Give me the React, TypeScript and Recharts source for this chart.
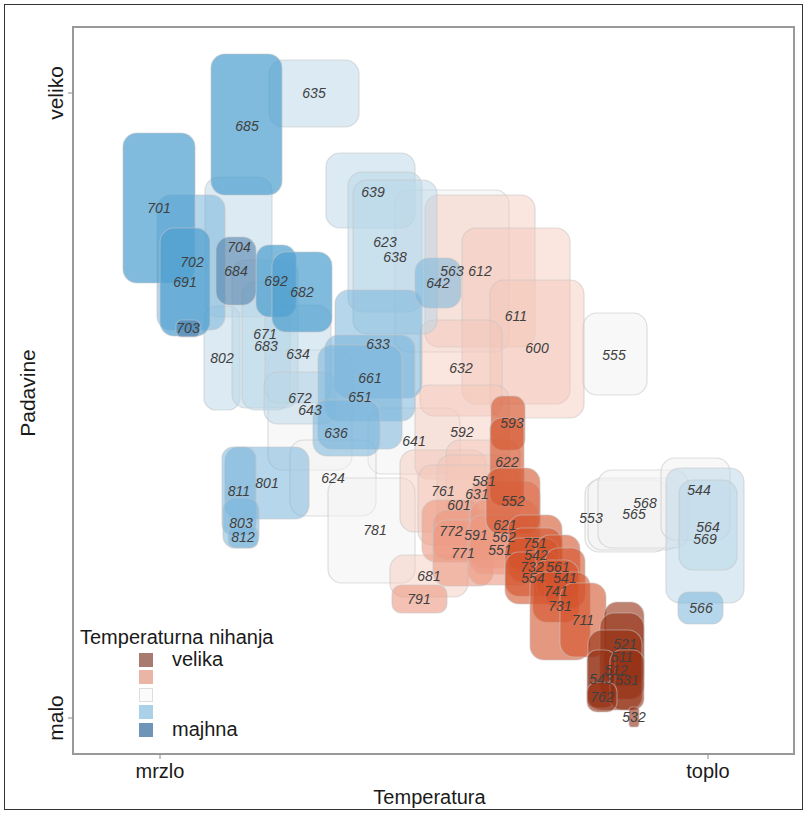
import React from "react";
import { ScatterChart, Scatter, XAxis, YAxis, ReferenceArea } from "recharts";

// each row: [id, x1, x2, y1, y2, labelX, labelY]  (temperature index, precipitation index)
type Row = [string, number, number, number, number, number, number];

const zoneWhite: Row[] = [
  ["643", 198, 282, 290, 410, 240, 350],
  ["563", 325, 439, 408, 570, 382, 489],
  ["555", 513, 577, 365, 447, 544, 405],
  ["641", 298, 390, 286, 352, 344, 319],
  ["624", 220, 306, 244, 320, 263, 282],
  ["781", 258, 345, 177, 282, 305, 230],
  ["553", 515, 598, 208, 280, 521, 242],
  ["565", 518, 610, 210, 282, 564, 246],
  ["568", 528, 618, 212, 290, 575, 257],
  ["569", 591, 660, 220, 302, 635, 221],
];

const zonePink: Row[] = [
  ["612", 355, 465, 413, 565, 410, 489],
  ["611", 392, 500, 356, 532, 446, 444],
  ["600", 420, 514, 342, 480, 467, 412],
  ["632", 350, 432, 344, 440, 391, 392],
  ["592", 345, 439, 281, 375, 392, 328],
  ["761", 330, 416, 228, 310, 373, 269],
  ["581", 376, 450, 238, 320, 414, 279],
  ["631", 367, 447, 227, 305, 407, 266],
  ["601", 348, 430, 215, 295, 389, 255],
  ["681", 320, 398, 163, 205, 359, 184],
];

const zonePaleBlue: Row[] = [
  ["635", 199, 289, 633, 700, 244, 667],
  ["704", 135, 202, 443, 583, 169, 513],
  ["802", 134, 170, 350, 454, 152, 402],
  ["671", 162, 228, 352, 500, 195, 426],
  ["683", 172, 220, 350, 478, 196, 414],
  ["634", 195, 261, 357, 455, 228, 406],
  ["672", 194, 266, 336, 388, 230, 362],
  ["639", 256, 345, 532, 607, 303, 568],
  ["623", 278, 352, 448, 588, 315, 518],
  ["638", 283, 367, 426, 580, 325, 503],
  ["544", 596, 674, 157, 292, 629, 270],
  ["564", 609, 667, 190, 280, 638, 233],
];

const zoneSalmon: Row[] = [
  ["772", 352, 410, 198, 260, 381, 229],
  ["591", 363, 449, 200, 250, 406, 225],
  ["771", 363, 423, 174, 240, 393, 207],
  ["621", 400, 470, 192, 278, 435, 235],
  ["562", 400, 468, 186, 260, 434, 223],
  ["551", 398, 462, 175, 245, 430, 210],
  ["791", 322, 377, 147, 175, 349, 161],
];

const zoneLightBlue: Row[] = [
  ["702", 87, 155, 430, 565, 122, 498],
  ["633", 265, 352, 362, 470, 308, 416],
  ["661", 255, 345, 339, 425, 300, 382],
  ["651", 248, 332, 311, 415, 290, 363],
  ["636", 243, 310, 304, 360, 266, 327],
  ["642", 345, 391, 452, 502, 368, 477],
  ["801", 155, 239, 241, 313, 197, 277],
  ["811", 152, 186, 225, 313, 169, 269],
  ["803", 153, 189, 212, 262, 171, 237],
  ["812", 158, 188, 212, 234, 173, 223],
  ["566", 608, 653, 136, 168, 631, 152],
];

const zoneRed: Row[] = [
  ["593", 421, 455, 310, 364, 442, 337],
  ["622", 420, 454, 254, 342, 437, 298],
  ["552", 416, 470, 226, 292, 443, 259],
  ["751", 438, 492, 189, 245, 465, 217],
  ["542", 438, 492, 178, 232, 466, 205],
  ["732", 435, 489, 164, 222, 462, 193],
  ["554", 435, 491, 156, 208, 463, 182],
  ["561", 466, 510, 161, 225, 488, 193],
  ["541", 475, 515, 152, 212, 495, 182],
  ["741", 463, 509, 138, 200, 486, 169],
  ["731", 460, 520, 100, 188, 490, 154],
  ["711", 490, 536, 103, 177, 513, 140],
];

const zoneBlue: Row[] = [
  ["685", 141, 212, 565, 706, 177, 634],
  ["701", 53, 125, 477, 627, 89, 552],
  ["691", 90, 140, 424, 532, 115, 478],
  ["692", 186, 226, 443, 515, 206, 479],
  ["682", 202, 262, 428, 508, 232, 468],
];

const zoneSteel: Row[] = [
  ["684", 146, 186, 455, 523, 166, 489],
  ["703", 106, 130, 423, 440, 118, 432],
];

const zoneDark: Row[] = [
  ["521", 534, 574, 74, 158, 555, 116],
  ["511", 530, 574, 61, 147, 552, 103],
  ["512", 518, 572, 50, 130, 546, 90],
  ["543", 517, 545, 52, 110, 531, 81],
  ["531", 540, 574, 50, 110, 557, 80],
  ["762", 517, 547, 48, 78, 532, 63],
  ["532", 559, 569, 33, 53, 564, 43],
];

const xTicks = [90, 638];
const xTickLabels = ["mrzlo", "toplo"];
const yTicks = [42, 667];
const yTickLabels = ["malo", "veliko"];

const legendLabels = ["velika", "", "", "", "majhna"];
const legendColors = ["#a97b70", "#eab5a5", "#fbfbfb", "#a9d2e8", "#6e94b8"];

const groups: { rows: Row[]; fill: string; opacity: number }[] = [
  { rows: zoneWhite, fill: "#f2f2f2", opacity: 0.5 },
  { rows: zonePink, fill: "#f4c6b8", opacity: 0.45 },
  { rows: zonePaleBlue, fill: "#b8d5e8", opacity: 0.5 },
  { rows: zoneSalmon, fill: "#ec9a82", opacity: 0.6 },
  { rows: zoneLightBlue, fill: "#78b4da", opacity: 0.55 },
  { rows: zoneRed, fill: "#d4532b", opacity: 0.6 },
  { rows: zoneBlue, fill: "#4f9fd0", opacity: 0.72 },
  { rows: zoneSteel, fill: "#4a7aa6", opacity: 0.55 },
  { rows: zoneDark, fill: "#952f12", opacity: 0.6 },
];

const zones = groups.flatMap((g) =>
  g.rows.map((r) => ({ id: r[0], x1: r[1], x2: r[2], y1: r[3], y2: r[4], tx: r[5], ty: r[6], fill: g.fill, opacity: g.opacity }))
);

const FONT = "'Liberation Sans', Arial, sans-serif";

const RoundBox = (p: any) => {
  const r = Math.min(14, p.width / 3, p.height / 3);
  return (
    <rect
      x={p.x}
      y={p.y}
      width={p.width}
      height={p.height}
      rx={r}
      ry={r}
      fill={p.fill}
      fillOpacity={p.fillOpacity}
      stroke="#c4c4c4"
      strokeOpacity={0.55}
      strokeWidth={1.2}
    />
  );
};

const ZoneLabel = (p: any) => (
  <text
    x={p.cx}
    y={p.cy}
    textAnchor="middle"
    dominantBaseline="central"
    fontFamily={FONT}
    fontStyle="italic"
    fontSize={14}
    fill="#404040"
  >
    {p.payload.id}
  </text>
);

const XTick = (p: any) => (
  <text x={p.x} y={p.y + 17} textAnchor="middle" fontFamily={FONT} fontSize={20} fill="#1a1a1a">
    {xTickLabels[xTicks.indexOf(p.payload.value)]}
  </text>
);

const YTick = (p: any) => (
  <text
    x={p.x - 3}
    y={p.y}
    textAnchor="middle"
    transform={`rotate(-90, ${p.x - 3}, ${p.y})`}
    fontFamily={FONT}
    fontSize={21}
    fill="#1a1a1a"
  >
    {yTickLabels[yTicks.indexOf(p.payload.value)]}
  </text>
);

export default function App() {
  return (
    <div style={{ position: "absolute", left: 0, top: 0, width: 807, height: 813, background: "#fff", fontFamily: FONT }}>
      <div style={{ position: "absolute", left: 4, top: 4, width: 797, height: 804, border: "1px solid #333" }} />
      <div style={{ position: "absolute", left: 0, top: 0 }}>
        <ScatterChart width={807} height={813} margin={{ top: 27, right: 13, bottom: 19, left: 13 }}>
          <XAxis
            type="number"
            dataKey="tx"
            domain={[3, 724]}
            allowDataOverflow
            ticks={xTicks}
            tick={<XTick />}
            tickLine={{ stroke: "#888" }}
            tickSize={5}
            axisLine={false}
            height={40}
          />
          <YAxis
            type="number"
            dataKey="ty"
            domain={[6, 733]}
            allowDataOverflow
            ticks={yTicks}
            tick={<YTick />}
            tickLine={{ stroke: "#888" }}
            tickSize={5}
            axisLine={false}
            width={60}
          />
          {zones.map((z, i) => (
            <ReferenceArea
              key={`zone-${i}`}
              x1={z.x1}
              x2={z.x2}
              y1={z.y1}
              y2={z.y2}
              fill={z.fill}
              fillOpacity={z.opacity}
              shape={<RoundBox />}
            />
          ))}
          <Scatter data={zones} isAnimationActive={false} shape={<ZoneLabel />} />
          <ReferenceArea x1={3} x2={724} y1={6} y2={733} fill="none" stroke="#999" strokeWidth={2} />
        </ScatterChart>
      </div>
      <div style={{ position: "absolute", left: 0, width: 807, top: 785, textAlign: "center", paddingLeft: 52, boxSizing: "border-box", fontSize: 20, color: "#1a1a1a", lineHeight: "24px" }}>
        Temperatura
      </div>
      <div
        style={{
          position: "absolute",
          left: 28,
          top: 393,
          transform: "translate(-50%, -50%) rotate(-90deg)",
          fontSize: 21,
          color: "#1a1a1a",
          whiteSpace: "nowrap",
        }}
      >
        Padavine
      </div>
      <div style={{ position: "absolute", left: 80, top: 625, fontSize: 20, color: "#1a1a1a", lineHeight: "24px", whiteSpace: "nowrap" }}>
        Temperaturna nihanja
      </div>
      {legendLabels.map((l, i) => (
        <div key={i} style={{ position: "absolute", left: 139, top: 651 + i * 17.5, height: 17.5, display: "flex", alignItems: "center" }}>
          <div style={{ width: 14, height: 14, background: legendColors[i], border: i === 2 ? "1px solid #ddd" : "none", boxSizing: "border-box" }} />
          <span style={{ marginLeft: 19, fontSize: 20, color: "#1a1a1a", whiteSpace: "nowrap" }}>{l}</span>
        </div>
      ))}
    </div>
  );
}
